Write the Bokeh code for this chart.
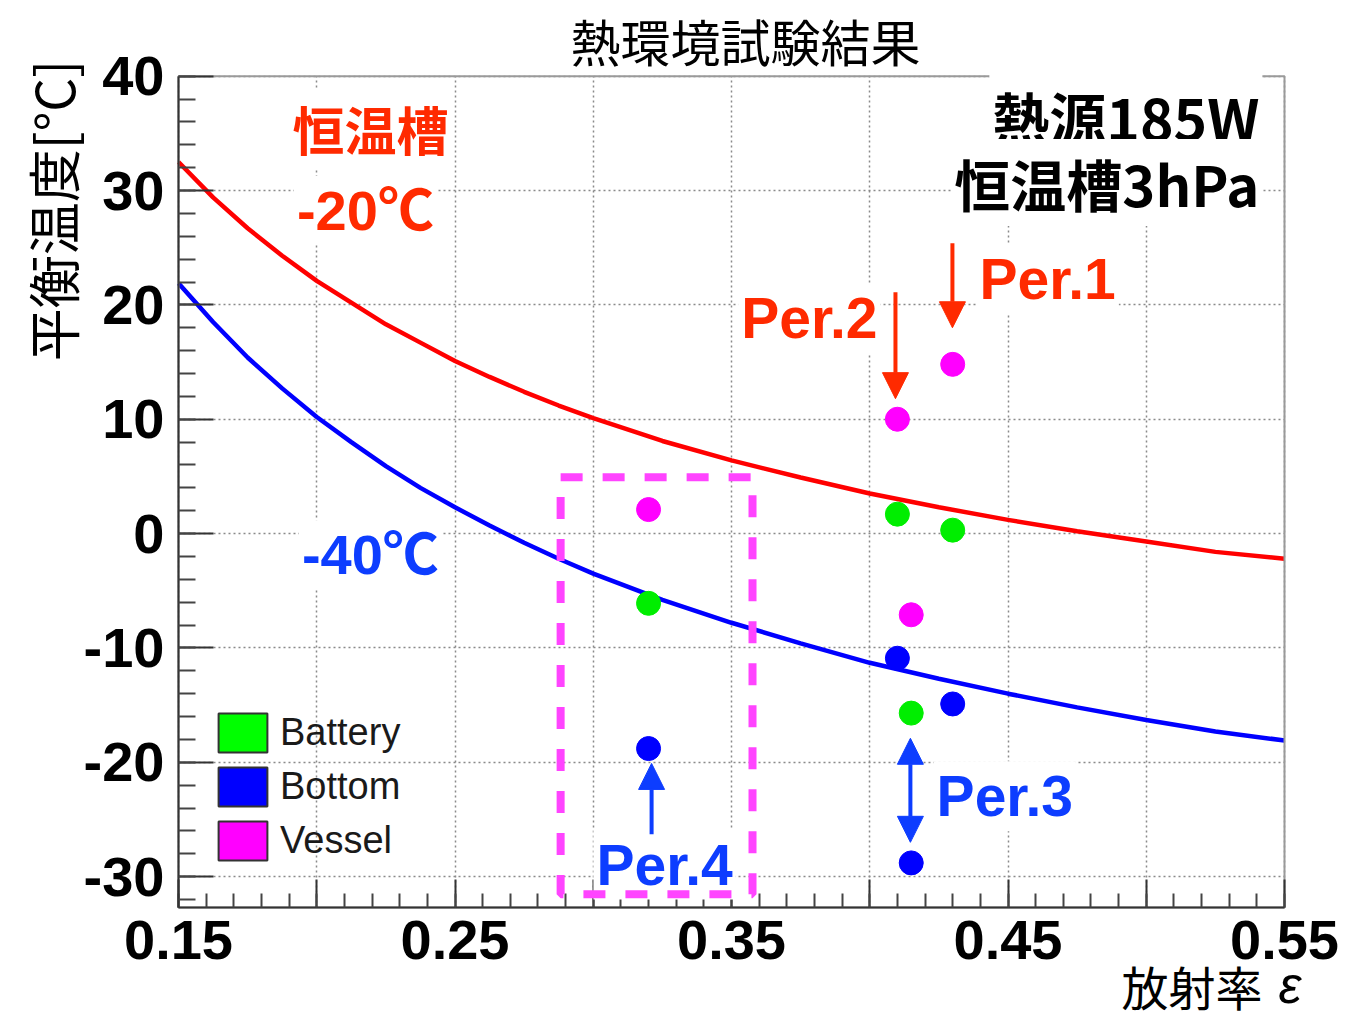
import math
from bokeh.plotting import figure
from bokeh.models import (Range1d, FixedTicker, Label, Arrow, NormalHead, Legend,
                          LegendItem, BoxAnnotation)
from bokeh.embed import file_html
from bokeh.resources import INLINE

# ---------------- data ----------------
eps_curve = [0.15, 0.1625, 0.175, 0.1875, 0.2, 0.2125, 0.225, 0.2375, 0.25, 0.2625,
             0.275, 0.2875, 0.3, 0.325, 0.35, 0.375, 0.4, 0.425, 0.45, 0.475,
             0.5, 0.525, 0.55]
temp_bath_m20 = [32.5, 29.4, 26.7, 24.3, 22.1, 20.2, 18.3, 16.7, 15.1, 13.7,
                 12.4, 11.2, 10.1, 8.1, 6.4, 4.9, 3.5, 2.3, 1.2, 0.2,
                 -0.7, -1.6, -2.2]
temp_bath_m40 = [21.9, 18.5, 15.4, 12.7, 10.2, 8.0, 5.9, 4.0, 2.3, 0.7,
                 -0.8, -2.2, -3.5, -5.8, -7.8, -9.6, -11.3, -12.7, -14.0, -15.2,
                 -16.3, -17.3, -18.1]

per_names = ["Per.1", "Per.2", "Per.3", "Per.4"]
per_eps = [0.43, 0.41, 0.415, 0.32]
battery = [0.3, 1.7, -15.7, -6.1]
bottom = [-14.9, -10.9, -28.8, -18.8]
vessel = [14.8, 10.0, -7.1, 2.1]

series_names = ["Battery", "Bottom", "Vessel"]

x_ticks = [0.15, 0.2, 0.25, 0.3, 0.35, 0.4, 0.45, 0.5, 0.55]
x_tick_labels = ["0.15", "", "0.25", "", "0.35", "", "0.45", "", "0.55"]
y_ticks = [-30, -20, -10, 0, 10, 20, 30, 40]
y_tick_labels = ["-30", "-20", "-10", "0", "10", "20", "30", "40"]

# ---------------- layout ----------------
W, H = 1346, 1021
FRAME_L, FRAME_R, FRAME_T, FRAME_B = 178, 1284, 75.7, 907
X0, X1 = 0.15, 0.55
Y0, Y1 = -32.7, 40
sx = (X1 - X0) / (FRAME_R - FRAME_L)
sy = (Y1 - Y0) / (FRAME_B - FRAME_T)

RED = "#ff0000"
RED_TXT = "#ff2a00"
BLUE = "#0000ff"
BLUE_TXT = "#0d3dff"
GREEN = "#00ee00"
MAGENTA = "#ff00ff"
JP = "Noto Sans CJK JP"
LAT = "Liberation Sans"
MIX = "Liberation Sans, Noto Sans CJK JP"

p = figure(width=W, height=H, title=None,
           x_range=Range1d(X0 - FRAME_L * sx, X1 + (W - FRAME_R) * sx),
           y_range=Range1d(Y0 - (H - FRAME_B) * sy, Y1 + FRAME_T * sy),
           output_backend="svg", toolbar_location=None, min_border=0)
p.background_fill_color = "white"
p.border_fill_color = "white"
p.outline_line_color = None

# plot box (top/right border in grey), under the axes
p.add_layout(BoxAnnotation(left=X0, right=X1, top=Y1, bottom=Y0, fill_alpha=0,
                           line_color="#9a9a9a", line_alpha=1, line_width=2,
                           level="glyph"))

# axes, fixed at the plot box edges
p.xaxis.fixed_location = Y0
p.yaxis.fixed_location = X0
p.xaxis.bounds = (X0, X1)
p.yaxis.bounds = (Y0, Y1)
p.xaxis.ticker = FixedTicker(ticks=x_ticks,
                             minor_ticks=[round(0.15 + 0.01 * i, 2) for i in range(41)])
p.yaxis.ticker = FixedTicker(ticks=y_ticks, minor_ticks=list(range(-32, 41, 2)))
p.xaxis.major_label_overrides = dict(zip(x_ticks, x_tick_labels))
p.yaxis.major_label_overrides = dict(zip(y_ticks, y_tick_labels))

for ax in (p.xaxis, p.yaxis):
    ax.axis_line_color = "#333333"
    ax.axis_line_width = 2
    ax.major_tick_out = 0
    ax.minor_tick_out = 0
    ax.major_tick_line_color = "#333333"
    ax.major_tick_line_width = 2
    ax.minor_tick_line_color = "#444444"
    ax.minor_tick_line_width = 2
    ax.major_label_text_font = LAT
    ax.major_label_text_font_style = "bold"
    ax.major_label_text_font_size = "56px"
    ax.major_label_text_color = "black"
p.xaxis.major_tick_in = 28
p.xaxis.minor_tick_in = 14
p.xaxis.major_label_standoff = 13
p.yaxis.major_tick_in = 35
p.yaxis.minor_tick_in = 17
p.yaxis.major_label_standoff = 14

for g in (p.xgrid, p.ygrid):
    g.grid_line_color = "#8a8a8a"
    g.grid_line_dash = "2 3"
    g.grid_line_width = 1.5
p.xgrid.bounds = (X0, X1)
p.xgrid.cross_bounds = (Y0, Y1)
p.ygrid.bounds = (Y0, Y1)
p.ygrid.cross_bounds = (X0, X1)

# curves
p.line(eps_curve, temp_bath_m20, line_color=RED, line_width=4.5)
p.line(eps_curve, temp_bath_m40, line_color=BLUE, line_width=4.5)

# points
colors = [GREEN, BLUE, MAGENTA]
for vals, col in zip([battery, bottom, vessel], colors):
    p.scatter(per_eps, vals, size=24, fill_color=col, line_color=col)

# legend (filled boxes)
items = []
nan = float("nan")
for name, col in zip(series_names, ["#00ff00", BLUE, MAGENTA]):
    r = p.quad(left=[nan], right=[nan], top=[nan], bottom=[nan], fill_color=col,
               line_color="#333333", line_width=2)
    items.append(LegendItem(label=name, renderers=[r]))
legend = Legend(items=items, location=(212, 156), margin=0, padding=0,
                spacing=5, glyph_width=61, glyph_height=49, label_height=49,
                label_standoff=7, label_text_font=LAT, label_text_font_size="38px",
                label_text_color="#1a1a1a", background_fill_alpha=0,
                border_line_alpha=0)
p.add_layout(legend)


def lab(x, y, text, size, color="black", font=JP, style="normal",
        align="center", baseline="middle", angle=0, bg=None):
    kw = dict(x=x, y=y, text=text, text_font=font, text_font_size=size,
              text_font_style=style, text_color=color, text_align=align,
              text_baseline=baseline, angle=angle)
    if bg:
        kw.update(background_fill_color=bg, padding=3)
    p.add_layout(Label(**kw))


# titles and axis labels
lab(0.3551, 43.2, "熱環境試験結果", "50px")
lab(0.1044, 28.25, "平衡温度[°C]", "53px", angle=math.pi / 2)
lab(0.5420, -39.5, "放射率", "47px", align="right")
lab(0.5478, -39.5, "ε", "52px", font=LAT, style="italic", align="left")

# curve annotations
lab(0.2194, 35.42, "恒温槽", "52px", color=RED_TXT, style="bold", bg="white")
lab(0.2176, 28.25, "-20℃", "56px", color=RED_TXT, font=MIX, style="bold",
    baseline="alphabetic", bg="white")
lab(0.2194, -1.86, "-40℃", "56px", color=BLUE_TXT, font=MIX, style="bold",
    baseline="alphabetic", bg="white")
lab(0.5420, 36.48, "熱源185W", "57px", style="bold", align="right", bg="white")
lab(0.5420, 30.71, "恒温槽3hPa", "56px", style="bold", align="right", bg="white")

# period labels
lab(0.4386, 22.23, per_names[0], "57px", color=RED_TXT, font=LAT, style="bold",
    align="left", baseline="alphabetic", bg="white")
lab(0.4039, 18.86, per_names[1], "57px", color=RED_TXT, font=LAT, style="bold",
    align="right", baseline="alphabetic", bg="white")
lab(0.4231, -22.96, per_names[2], "57px", color=BLUE_TXT, font=LAT, style="bold",
    align="left", baseline="alphabetic", bg="white")
lab(0.3258, -28.95, per_names[3], "57px", color=BLUE_TXT, font=LAT, style="bold",
    align="center", baseline="alphabetic", bg="white")


def arrow(x, y0, y1, color, both=False):
    head = NormalHead(size=26, fill_color=color, line_color=color)
    kw = dict(end=head, x_start=x, y_start=y0, x_end=x, y_end=y1,
              line_color=color, line_width=4)
    if both:
        kw["start"] = NormalHead(size=26, fill_color=color, line_color=color)
    else:
        kw["start"] = None
    p.add_layout(Arrow(**kw))


arrow(0.4299, 25.4, 18.0, RED_TXT)
arrow(0.4093, 21.1, 11.8, RED_TXT)
arrow(0.4147, -17.9, -27.0, BLUE_TXT, both=True)
arrow(0.3211, -26.3, -20.1, BLUE_TXT)

# dashed highlight box around Per.4
p.add_layout(BoxAnnotation(left=0.2882, right=0.3576, top=4.93, bottom=-31.54,
                           fill_alpha=0, line_color="#ff44ff", line_alpha=1,
                           line_width=8, line_dash="22 20"))

open("out.html", "w").write(file_html(p, INLINE))
